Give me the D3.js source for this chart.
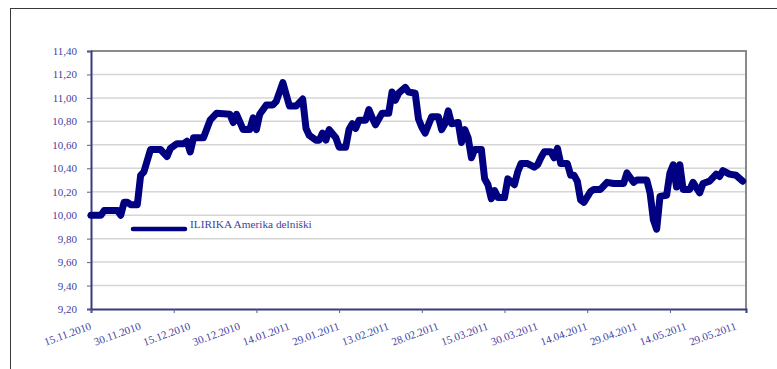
<!DOCTYPE html>
<html>
<head>
<meta charset="utf-8">
<script src="https://cdn.jsdelivr.net/npm/d3@7"></script>
<style>
  html, body { margin: 0; padding: 0; background: #fff; }
  svg { display: block; }
  text { font-family: "Liberation Serif", "DejaVu Serif", serif; }
</style>
</head>
<body>
<svg id="chart" width="777" height="369"></svg>
<script>
// Daily unit value of the fund (vertices of the series)
const dates = [
  "2010-11-15","2010-11-18","2010-11-19","2010-11-23","2010-11-24","2010-11-25","2010-11-26","2010-11-27",
  "2010-11-29","2010-11-30","2010-12-01","2010-12-03","2010-12-06","2010-12-08","2010-12-09","2010-12-11",
  "2010-12-13","2010-12-14","2010-12-15","2010-12-16","2010-12-19","2010-12-21","2010-12-23","2010-12-27",
  "2010-12-28","2010-12-29","2010-12-31","2011-01-02","2011-01-03","2011-01-04","2011-01-05","2011-01-07",
  "2011-01-09","2011-01-10","2011-01-12","2011-01-14","2011-01-16","2011-01-18","2011-01-19","2011-01-20",
  "2011-01-22","2011-01-23","2011-01-24","2011-01-25","2011-01-26","2011-01-28","2011-01-29","2011-01-31",
  "2011-02-01","2011-02-02","2011-02-03","2011-02-04","2011-02-06","2011-02-07","2011-02-08","2011-02-09",
  "2011-02-11","2011-02-13","2011-02-14","2011-02-15","2011-02-16","2011-02-18","2011-02-19","2011-02-21",
  "2011-02-22","2011-02-23","2011-02-24","2011-02-26","2011-02-28","2011-03-01","2011-03-02","2011-03-03",
  "2011-03-04","2011-03-06","2011-03-07","2011-03-08","2011-03-09","2011-03-10","2011-03-11","2011-03-13",
  "2011-03-14","2011-03-15","2011-03-16","2011-03-17","2011-03-18","2011-03-20","2011-03-21","2011-03-23",
  "2011-03-24","2011-03-25","2011-03-27","2011-03-29","2011-03-30","2011-03-31","2011-04-01","2011-04-03",
  "2011-04-04","2011-04-05","2011-04-06","2011-04-08","2011-04-09","2011-04-10","2011-04-11","2011-04-12",
  "2011-04-13","2011-04-15","2011-04-16","2011-04-18","2011-04-20","2011-04-22","2011-04-25","2011-04-26",
  "2011-04-28","2011-04-29","2011-05-02","2011-05-03","2011-05-04","2011-05-05","2011-05-06","2011-05-08",
  "2011-05-09","2011-05-10","2011-05-11","2011-05-12","2011-05-13","2011-05-15","2011-05-16","2011-05-18",
  "2011-05-19","2011-05-21","2011-05-23","2011-05-24","2011-05-25","2011-05-27","2011-05-29","2011-05-31"
];
const values = [
  10.00,10.00,10.04,10.04,10.00,10.11,10.11,10.09,
  10.09,10.34,10.37,10.56,10.56,10.50,10.57,10.61,
  10.61,10.63,10.54,10.66,10.66,10.81,10.87,10.86,
  10.79,10.86,10.73,10.73,10.83,10.73,10.86,10.94,
  10.94,10.97,11.13,10.93,10.93,10.99,10.74,10.68,
  10.64,10.64,10.70,10.64,10.73,10.66,10.58,10.58,
  10.73,10.78,10.74,10.81,10.81,10.90,10.83,10.77,
  10.87,10.87,11.05,10.98,11.04,11.09,11.05,11.04,
  10.82,10.75,10.70,10.84,10.84,10.73,10.78,10.89,
  10.78,10.79,10.62,10.73,10.66,10.49,10.56,10.56,
  10.31,10.26,10.14,10.21,10.15,10.15,10.31,10.26,
  10.37,10.44,10.44,10.41,10.43,10.49,10.54,10.54,
  10.49,10.57,10.44,10.44,10.34,10.34,10.29,10.13,
  10.11,10.20,10.22,10.22,10.28,10.27,10.27,10.36,
  10.28,10.30,10.30,10.19,9.96,9.88,10.16,10.17,
  10.36,10.43,10.24,10.43,10.22,10.22,10.28,10.19,
  10.27,10.29,10.35,10.33,10.38,10.35,10.34,10.29
];

const seriesName = "ILIRIKA Amerika delniški";
const yTicks = [9.2, 9.4, 9.6, 9.8, 10.0, 10.2, 10.4, 10.6, 10.8, 11.0, 11.2, 11.4];
const xLabelDates = [
  "2010-11-15","2010-11-30","2010-12-15","2010-12-30","2011-01-14","2011-01-29","2011-02-13",
  "2011-02-28","2011-03-15","2011-03-30","2011-04-14","2011-04-29","2011-05-14","2011-05-29"
];
const xTickDates = [
  "2010-11-15","2010-12-10","2011-01-04","2011-01-29","2011-02-23","2011-03-20","2011-04-14","2011-05-09"
];
const xDomain = ["2010-11-15", "2011-06-01"];

const parse = d3.utcParse("%Y-%m-%d");
const fmtDate = d3.utcFormat("%d.%m.%Y");
const fmtVal = v => d3.format(".2f")(v).replace(".", ",");

const data = dates.map((d, i) => ({ date: parse(d), value: values[i] }));

const svg = d3.select("#chart");
const plot = { left: 91, top: 51, right: 746, bottom: 309 };
const navy = "#000080";
const labelColor = "#3f3fa0";

const x = d3.scaleUtc().domain(xDomain.map(parse)).range([plot.left, plot.right]);
const y = d3.scaleLinear().domain([9.2, 11.4]).range([plot.bottom, plot.top]);

// outer chart frame
svg.append("rect")
  .attr("x", 10.5).attr("y", 8.5)
  .attr("width", 800).attr("height", 400)
  .attr("fill", "none").attr("stroke", "#3a3a3a").attr("stroke-width", 1);

// horizontal gridlines
svg.append("g").selectAll("line")
  .data(yTicks.slice(1, -1))
  .join("line")
  .attr("x1", plot.left).attr("x2", plot.right)
  .attr("y1", d => y(d)).attr("y2", d => y(d))
  .attr("stroke", "#d6d6d6").attr("stroke-width", 1.5);

// plot area border (top / right)
svg.append("path")
  .attr("d", `M${plot.left},${plot.top}H${plot.right}V${plot.bottom}`)
  .attr("fill", "none").attr("stroke", "#8a8a8a").attr("stroke-width", 2);

// y axis
const yAxis = svg.append("g")
  .attr("transform", `translate(${plot.left},0)`)
  .call(d3.axisLeft(y).tickValues(yTicks).tickFormat(fmtVal).tickSize(4).tickPadding(10));
yAxis.select(".domain").attr("stroke", "#3a3a7e").attr("stroke-width", 2);
yAxis.selectAll(".tick line").attr("stroke", "#5a5a8e");
yAxis.selectAll(".tick text")
  .attr("fill", labelColor)
  .style("font-family", '"Liberation Serif", serif')
  .style("font-size", "11px");

// x axis: tick marks
const xAxis = svg.append("g")
  .attr("transform", `translate(0,${plot.bottom})`)
  .call(d3.axisBottom(x).tickValues(xTickDates.map(parse)).tickFormat("").tickSize(4));
xAxis.select(".domain").attr("stroke", "#3a3a7e").attr("stroke-width", 2);
xAxis.selectAll(".tick line").attr("stroke", "#5a5a8e");

// x axis: rotated date labels
svg.append("g").selectAll("text")
  .data(xLabelDates.map(parse))
  .join("text")
  .attr("transform", d => `translate(${x(d) + 1},${plot.bottom + 20}) rotate(-20)`)
  .attr("text-anchor", "end")
  .attr("fill", labelColor)
  .style("font-size", "11px")
  .text(d => fmtDate(d));

// series line
const line = d3.line().x(d => x(d.date)).y(d => y(d.value));
svg.append("path")
  .datum(data)
  .attr("d", line)
  .attr("fill", "none")
  .attr("stroke", navy)
  .attr("stroke-width", 7)
  .attr("stroke-linejoin", "round")
  .attr("stroke-linecap", "round");

// legend
const legend = svg.append("g").attr("transform", "translate(133,229)");
legend.append("line")
  .attr("x1", 0).attr("x2", 52).attr("y1", 0).attr("y2", 0)
  .attr("stroke", navy).attr("stroke-width", 4.5).attr("stroke-linecap", "round");
legend.append("text")
  .attr("x", 57).attr("y", -1.5)
  .attr("fill", labelColor)
  .style("font-size", "11.3px")
  .text(seriesName);
</script>
</body>
</html>
